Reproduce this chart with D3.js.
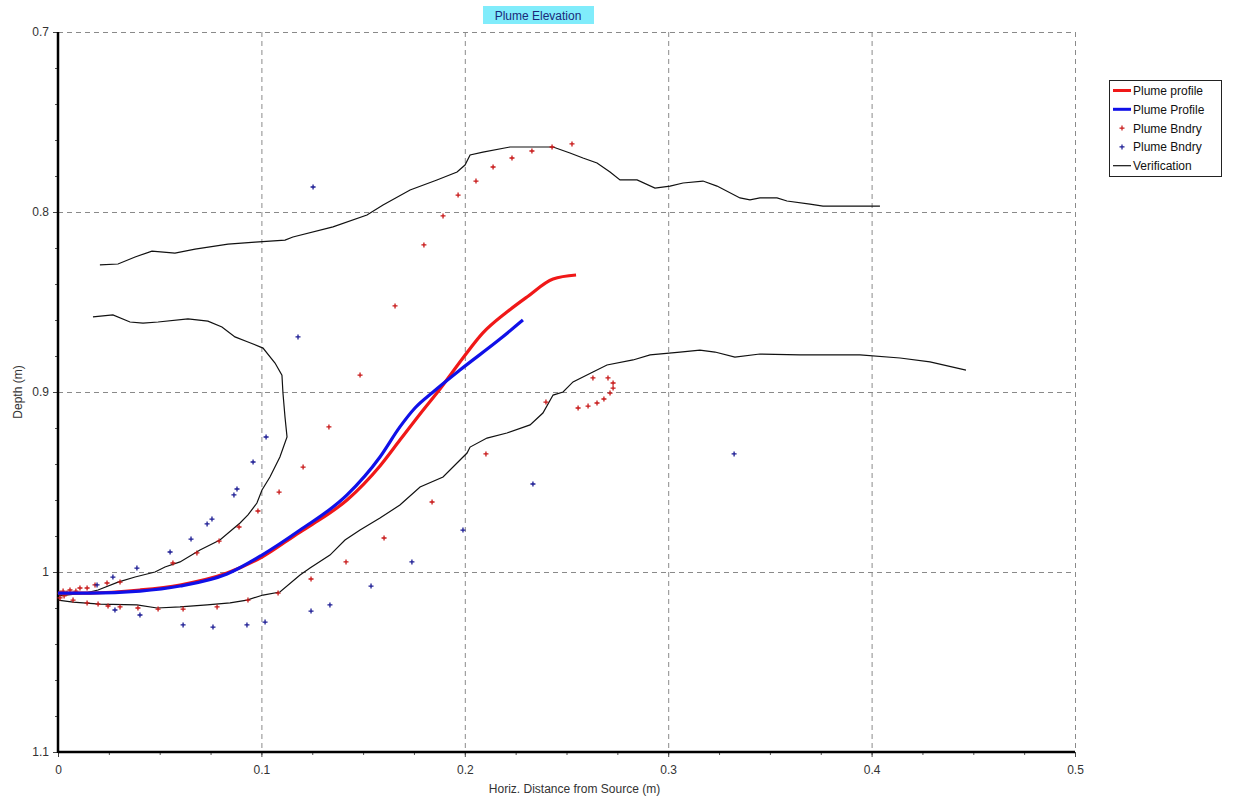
<!DOCTYPE html>
<html><head><meta charset="utf-8">
<script src="https://cdn.jsdelivr.net/npm/d3@7"></script>
<style>body{margin:0;background:#fff;}svg{display:block;font-family:"Liberation Sans",Arial,sans-serif;}</style>
</head><body><svg id="c" width="1242" height="801"></svg>
<script>
const title = "Plume Elevation";
const xLabel = "Horiz. Distance from Source (m)";
const yLabel = "Depth (m)";
const xTicks = [0, 0.1, 0.2, 0.3, 0.4, 0.5];
const yTicks = [0.7, 0.8, 0.9, 1, 1.1];
const legendLabels = ["Plume profile", "Plume Profile", "Plume Bndry", "Plume Bndry", "Verification"];

const redProfile = [[0,1.0117],[0.0157,1.0117],[0.0403,1.0100],[0.06,1.0072],[0.0831,1.0006],[0.1003,0.9917],[0.119,0.9778],[0.1254,0.9733],[0.1421,0.96],[0.1583,0.9411],[0.1681,0.9267],[0.178,0.9122],[0.1878,0.8983],[0.1991,0.8811],[0.2089,0.8672],[0.2207,0.8556],[0.2306,0.8472],[0.2434,0.8372],[0.2547,0.835]];
const blueProfile = [[0,1.0117],[0.0157,1.0117],[0.0403,1.0106],[0.06,1.0078],[0.0831,1.0011],[0.1003,0.9906],[0.119,0.9767],[0.1421,0.9572],[0.1583,0.9361],[0.1681,0.9194],[0.1755,0.9089],[0.1844,0.9],[0.1976,0.8878],[0.2173,0.8706],[0.2286,0.86]];
const redBndry = [[0.001,1.0117],[0.001,1.0144],[0.0025,1.0106],[0.003,1.0133],[0.0044,1.0117],[0.0059,1.01],[0.0074,1.0156],[0.0088,1.0106],[0.0108,1.0089],[0.0143,1.0089],[0.0143,1.0172],[0.0182,1.0072],[0.0197,1.0178],[0.0241,1.0061],[0.0246,1.0189],[0.0305,1.0056],[0.0305,1.0194],[0.0393,1.02],[0.0492,1.0206],[0.0565,0.995],[0.0615,1.0206],[0.0683,0.9894],[0.0782,1.0194],[0.0792,0.9828],[0.089,0.975],[0.0934,1.0156],[0.0983,0.9661],[0.1082,1.0117],[0.1087,0.9556],[0.1205,0.9417],[0.1244,1.0039],[0.1332,0.9194],[0.1416,0.9944],[0.1485,0.8906],[0.1603,0.9811],[0.1657,0.8522],[0.1799,0.8183],[0.1839,0.9611],[0.1893,0.8022],[0.1967,0.7906],[0.2055,0.7828],[0.2104,0.9344],[0.2139,0.775],[0.2232,0.77],[0.233,0.7661],[0.2399,0.9056],[0.2429,0.7639],[0.2527,0.7622],[0.2557,0.9089],[0.2606,0.9078],[0.265,0.9061],[0.2684,0.9039],[0.2714,0.9006],[0.2729,0.8978],[0.2729,0.895],[0.2704,0.8922],[0.263,0.8922]];
const blueBndry = [[0.0192,1.0072],[0.027,1.0028],[0.028,1.0211],[0.0388,0.9978],[0.0403,1.0239],[0.0551,0.9889],[0.0615,1.0294],[0.0654,0.9817],[0.0733,0.9733],[0.0757,0.9706],[0.0762,1.0306],[0.0865,0.9572],[0.088,0.9539],[0.0929,1.0294],[0.0959,0.9389],[0.1018,1.0278],[0.1023,0.925],[0.118,0.8694],[0.1244,1.0217],[0.1254,0.7861],[0.1337,1.0183],[0.1539,1.0078],[0.174,0.9944],[0.1991,0.9767],[0.2335,0.9511],[0.3324,0.9344]];
const verifUpper = [[0.0206,0.8294],[0.0295,0.8289],[0.0379,0.825],[0.0462,0.8217],[0.0575,0.8228],[0.0674,0.8206],[0.0836,0.8178],[0.0969,0.8167],[0.1116,0.8156],[0.1155,0.8139],[0.1352,0.8083],[0.1519,0.8017],[0.1598,0.7961],[0.1731,0.7878],[0.1863,0.7822],[0.1962,0.7778],[0.2001,0.7739],[0.2026,0.7683],[0.2089,0.7667],[0.2222,0.7639],[0.2306,0.7639],[0.2434,0.7639],[0.2517,0.7672],[0.2581,0.77],[0.265,0.7728],[0.2714,0.7778],[0.2763,0.7822],[0.2847,0.7822],[0.2935,0.7867],[0.3009,0.7856],[0.3073,0.7839],[0.3171,0.7828],[0.324,0.7856],[0.3353,0.7922],[0.3402,0.7933],[0.3451,0.7922],[0.3535,0.7922],[0.3584,0.7939],[0.3697,0.7956],[0.3761,0.7967],[0.4041,0.7967]];
const verifMiddle = [[0.0172,0.8583],[0.027,0.8572],[0.0354,0.8611],[0.0418,0.8617],[0.0492,0.8611],[0.0639,0.8594],[0.0737,0.8606],[0.0806,0.8639],[0.087,0.8694],[0.0934,0.8722],[0.1008,0.8756],[0.1067,0.8839],[0.1101,0.8906],[0.1106,0.9006],[0.1116,0.9139],[0.1126,0.925],[0.1091,0.9361],[0.1042,0.9472],[0.1003,0.9544],[0.0978,0.9617],[0.0934,0.9683],[0.0895,0.9728],[0.0796,0.9822],[0.0698,0.9878],[0.06,0.9944],[0.0526,0.9972],[0.0477,1.0],[0.0379,1.0028],[0.0295,1.0056],[0.0197,1.01],[0.0133,1.0117],[0,1.0133]];
const verifLower = [[0,1.0156],[0.0074,1.0167],[0.0206,1.0178],[0.0388,1.0183],[0.0487,1.02],[0.06,1.0194],[0.0733,1.0183],[0.0846,1.0172],[0.0929,1.0156],[0.1008,1.0128],[0.1091,1.0111],[0.119,1.0017],[0.1239,0.9978],[0.1337,0.9906],[0.1411,0.9822],[0.1485,0.9767],[0.1583,0.97],[0.1681,0.9628],[0.178,0.9528],[0.1893,0.9472],[0.2011,0.9339],[0.2026,0.9306],[0.2109,0.9256],[0.2207,0.9228],[0.2321,0.9183],[0.2384,0.9117],[0.2434,0.9017],[0.2483,0.9],[0.2532,0.8944],[0.263,0.8889],[0.2699,0.885],[0.2827,0.8822],[0.2911,0.8794],[0.3058,0.8778],[0.3156,0.8767],[0.323,0.8778],[0.3328,0.8806],[0.3451,0.8789],[0.3648,0.8794],[0.3943,0.8794],[0.414,0.8811],[0.4287,0.8833],[0.4464,0.8878]];

const svg = d3.select("#c");
const L = 58, R = 1075, T = 32, B = 752;
const x = d3.scaleLinear().domain([0, 0.5]).range([L, R]);
const y = d3.scaleLinear().domain([0.7, 1.1]).range([T, B]);

const grid = svg.append("g").attr("stroke", "#8a8a8a").attr("stroke-width", 1).attr("stroke-dasharray", "5,4");
xTicks.slice(1).forEach(v => grid.append("line").attr("x1", x(v)+0.5).attr("x2", x(v)+0.5).attr("y1", T).attr("y2", B));
yTicks.slice(0, -1).forEach(v => grid.append("line").attr("x1", L).attr("x2", R).attr("y1", y(v)+0.5).attr("y2", y(v)+0.5));

// minor ticks
const xMinor = d3.range(0, 0.5001, 0.025);
const yMinor = d3.range(0.7, 1.1001, 0.02);
const xAxis = d3.axisBottom(x).tickValues(xMinor).tickSize(3).tickFormat("");
const yAxis = d3.axisLeft(y).tickValues(yMinor).tickSize(3).tickFormat("");
svg.append("g").attr("transform", `translate(0,${B})`).call(xAxis).call(g => g.select(".domain").remove()).selectAll("line").attr("stroke", "#555");
svg.append("g").attr("transform", `translate(${L},0)`).call(yAxis).call(g => g.select(".domain").remove()).selectAll("line").attr("stroke", "#555");

const xMaj = d3.axisBottom(x).tickValues(xTicks).tickSize(5).tickFormat(d => d3.format("")(d));
const yMaj = d3.axisLeft(y).tickValues(yTicks).tickSize(5).tickFormat(d => d3.format("")(d));
const gx = svg.append("g").attr("transform", `translate(0,${B})`).call(xMaj);
gx.select(".domain").remove();
gx.selectAll("text").attr("font-size", 12).attr("fill", "#333").attr("font-family", "Liberation Sans, Arial").attr("dy", "1.15em");
gx.selectAll("line").attr("stroke", "#444");
const gy = svg.append("g").attr("transform", `translate(${L},0)`).call(yMaj);
gy.select(".domain").remove();
gy.selectAll("text").attr("font-size", 12).attr("fill", "#333").attr("font-family", "Liberation Sans, Arial").attr("dx", "-1");
gy.selectAll("line").attr("stroke", "#444");

// axis frame
svg.append("line").attr("x1", L).attr("x2", L).attr("y1", T).attr("y2", B+1).attr("stroke", "#000").attr("stroke-width", 2.5);
svg.append("line").attr("x1", L).attr("x2", R).attr("y1", B).attr("y2", B).attr("stroke", "#000").attr("stroke-width", 2.5);

const line = d3.line().x(d => x(d[0])).y(d => y(d[1]));
const smooth = d3.line().x(d => x(d[0])).y(d => y(d[1])).curve(d3.curveMonotoneX);
[verifUpper, verifMiddle, verifLower].forEach(s =>
  svg.append("path").datum(s).attr("d", line).attr("fill", "none").attr("stroke", "#111").attr("stroke-width", 1.2));

function plus(data, color) {
  const g = svg.append("g").attr("stroke", color).attr("stroke-width", 1.3);
  g.selectAll("path").data(data).join("path")
    .attr("d", d => `M${x(d[0])-2.5},${y(d[1])}h5M${x(d[0])},${y(d[1])-2.5}v5`);
}
plus(redBndry, "#c81818");
plus(blueBndry, "#1c1c94");

svg.append("path").datum(redProfile).attr("d", smooth).attr("fill", "none").attr("stroke", "#f01818").attr("stroke-width", 3.2).attr("stroke-linejoin", "round");
svg.append("path").datum(blueProfile).attr("d", smooth).attr("fill", "none").attr("stroke", "#1010e8").attr("stroke-width", 3.2).attr("stroke-linejoin", "round");

// title
svg.append("rect").attr("x", 483).attr("y", 6).attr("width", 111).attr("height", 18).attr("fill", "#80ecfb");
svg.append("text").attr("x", 538).attr("y", 20).attr("text-anchor", "middle").attr("font-size", 12).attr("fill", "#1a2a7a").text(title);

// axis labels
svg.append("text").attr("x", (L+R)/2 + 8).attr("y", 793).attr("text-anchor", "middle").attr("font-size", 12).attr("fill", "#333").text(xLabel);
svg.append("text").attr("transform", `translate(22,${(T+B)/2}) rotate(-90)`).attr("text-anchor", "middle").attr("font-size", 12).attr("fill", "#333").text(yLabel);

// legend
const lg = svg.append("g").attr("transform", "translate(1109,80)");
lg.append("rect").attr("x", 0.5).attr("y", 0.5).attr("width", 112).attr("height", 96).attr("fill", "#fff").attr("stroke", "#222");
const styles = [
  {type: "line", color: "#f01818", w: 3},
  {type: "line", color: "#1010e8", w: 3},
  {type: "plus", color: "#c81818"},
  {type: "plus", color: "#1c1c94"},
  {type: "line", color: "#111", w: 1.2}
];
legendLabels.forEach((t, i) => {
  const cy = 10.5 + i * 18.8;
  const s = styles[i];
  if (s.type === "line") lg.append("line").attr("x1", 4).attr("x2", 22).attr("y1", cy).attr("y2", cy).attr("stroke", s.color).attr("stroke-width", s.w);
  else lg.append("path").attr("d", `M10.5,${cy}h5M13,${cy-2.5}v5`).attr("stroke", s.color).attr("stroke-width", 1.2);
  lg.append("text").attr("x", 24).attr("y", cy + 4.5).attr("font-size", 12).attr("fill", "#111").text(t);
});
</script></body></html>
